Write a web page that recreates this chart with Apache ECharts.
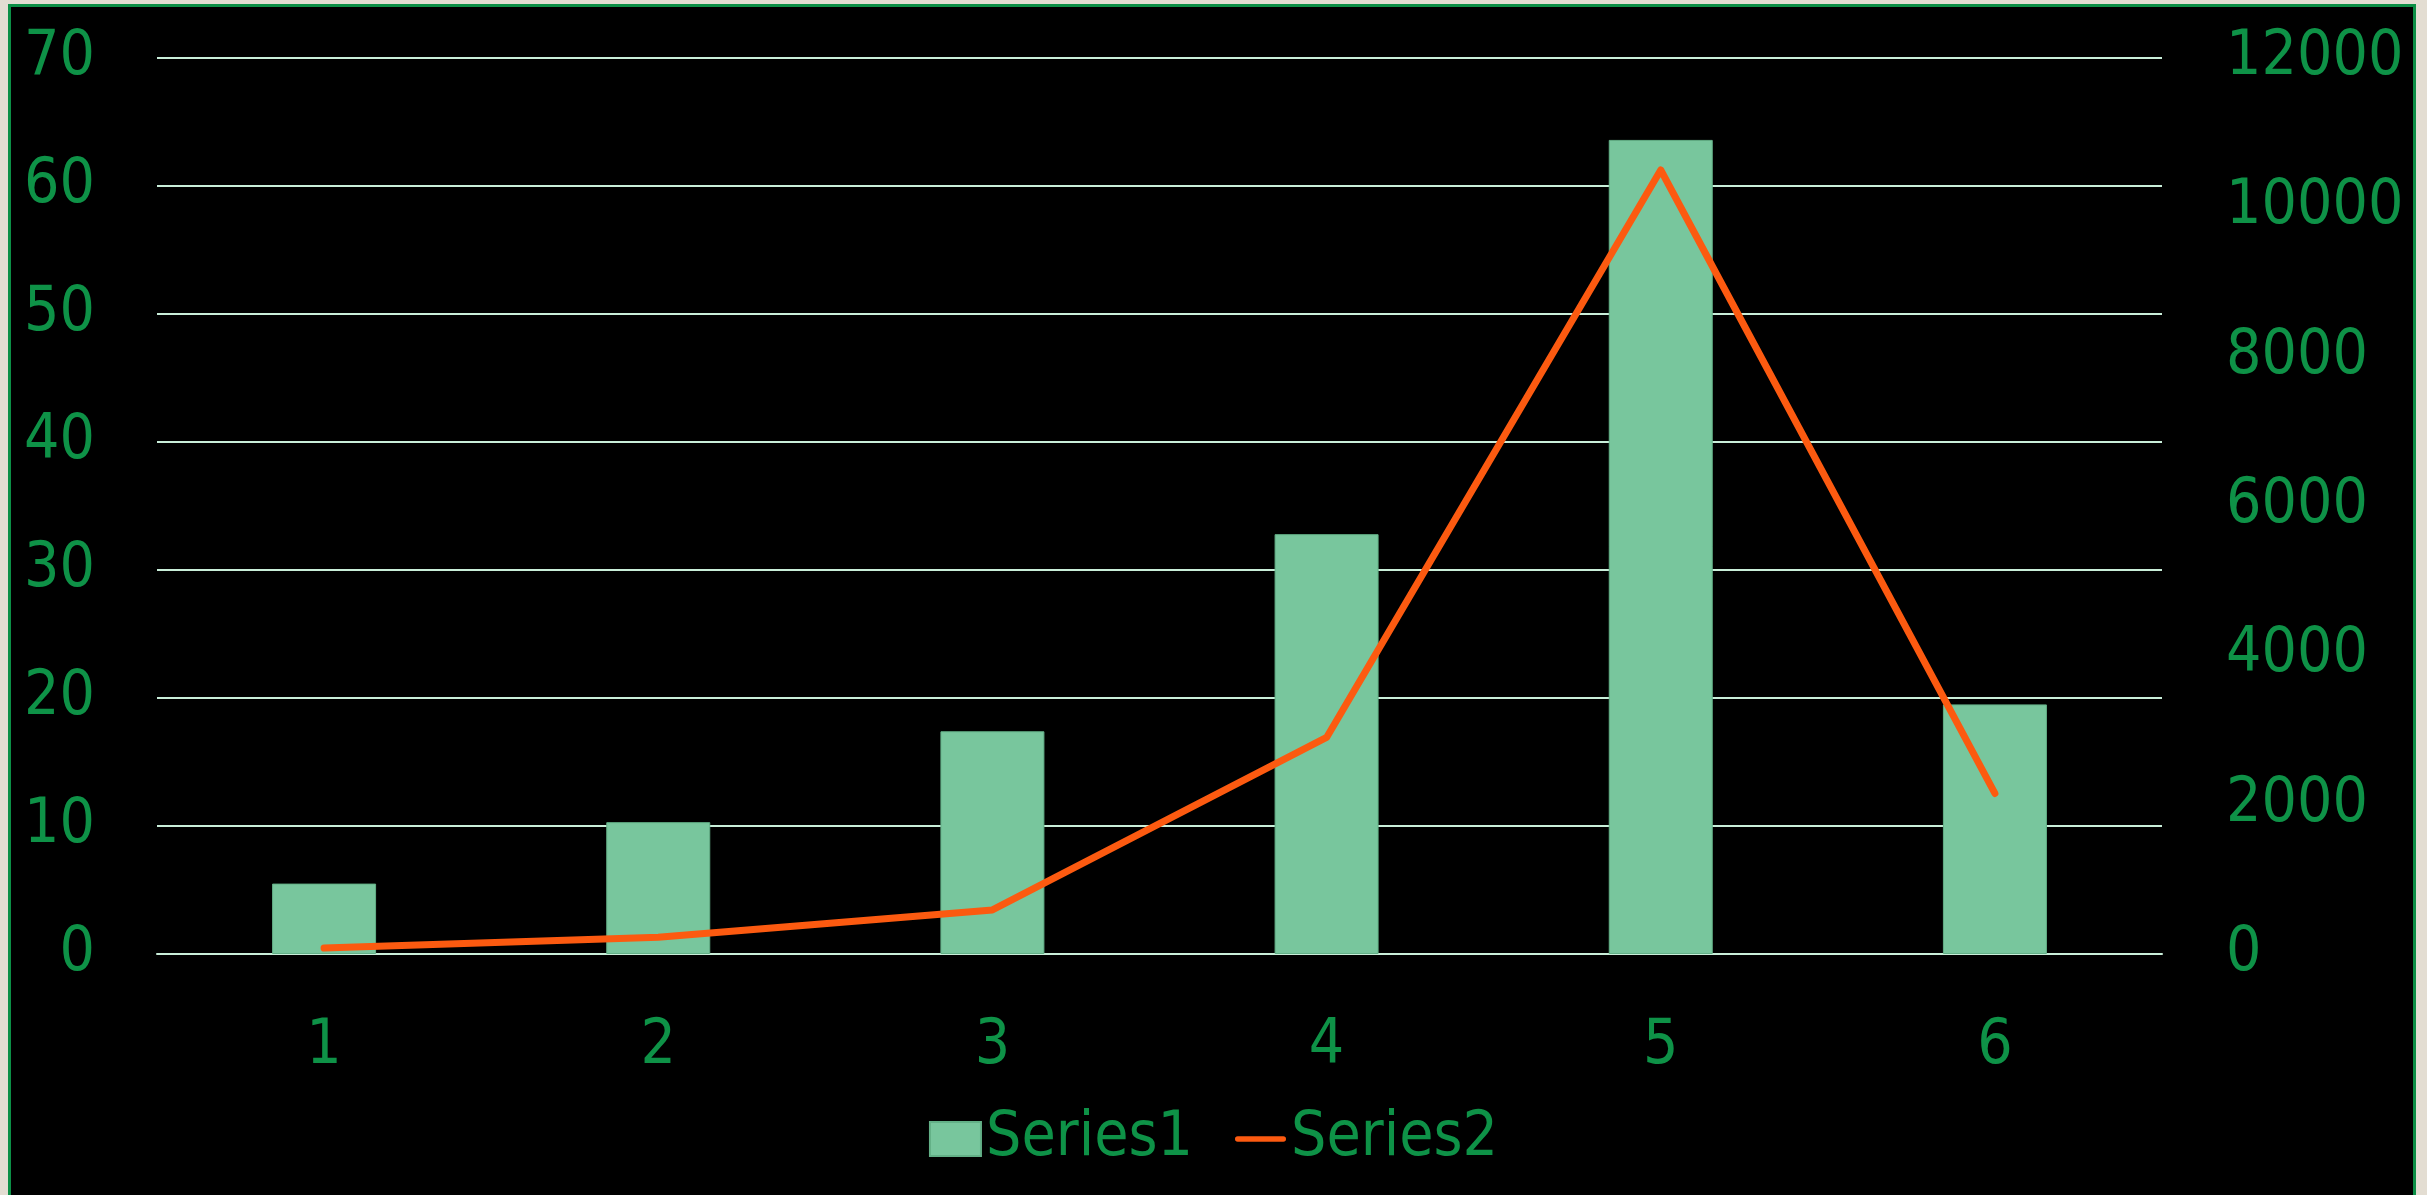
<!DOCTYPE html>
<html style="height: 100%">
<head>
	<meta charset="utf-8">
	<style>
		body { margin: 0; background: #e3ddd2; overflow: hidden; }
		#frame { position: absolute; left: 8px; top: 4px; width: 2408px; height: 1260px; box-sizing: border-box; background: #000; border: 3px solid #0c8f46; }
		#container { position: absolute; left: 0; top: 0; width: 2427px; height: 1195px; }
	</style>
</head>
<body>
<div id="frame"></div>
<div id="container"></div>
<script type="text/javascript" src="https://cdn.jsdelivr.net/npm/echarts@6/dist/echarts.min.js"></script>
<script type="text/javascript">
    var categories = ['1', '2', '3', '4', '5', '6'];
    var series1 = [5.5, 10.3, 17.4, 32.8, 63.6, 19.5];
    var series2 = [80, 225, 590, 2900, 10500, 2150];

    var fontFamily = '"DejaVu Sans Condensed", "DejaVu Sans", sans-serif';
    var fontSize = 62;
    var textGreen = '#0e9247';
    var gridColor = '#c9eed9';
    var lineColor = '#fc5a10';

    var dom = document.getElementById("container");
    var myChart = echarts.init(dom);

    var option = {
        backgroundColor: 'transparent',
        animation: false,
        textStyle: { fontFamily: fontFamily },
        grid: {
            left: 157,
            right: 265,
            top: 58,
            bottom: 241
        },
        legend: {
            left: 'center',
            top: 1103,
            itemWidth: 51,
            itemHeight: 34,
            itemGap: 42,
            textStyle: { color: textGreen, fontSize: fontSize, padding: [12, 0, 0, 0], fontFamily: fontFamily },
            data: [
                { name: 'Series1', icon: 'rect' },
                { name: 'Series2', icon: 'path://M3,0 L53,0 A3,3 0 0 1 53,6 L3,6 A3,3 0 0 1 3,0 Z', itemStyle: { color: lineColor } }
            ]
        },
        xAxis: {
            type: 'category',
            data: categories,
            axisLine: { show: true, lineStyle: { color: gridColor, width: 2 } },
            axisTick: { show: false },
            axisLabel: { color: textGreen, fontSize: fontSize, margin: 62, fontFamily: fontFamily }
        },
        yAxis: [{
            type: 'value',
            min: 0,
            max: 70,
            interval: 10,
            axisLine: { show: false },
            axisTick: { show: false },
            splitLine: { show: true, lineStyle: { color: gridColor, width: 2 } },
            axisLabel: { color: textGreen, fontSize: fontSize, margin: 62, padding: [18, 0, 0, 0], fontFamily: fontFamily }
        }, {
            type: 'value',
            min: 0,
            max: 12000,
            interval: 2000,
            position: 'right',
            axisLine: { show: false },
            axisTick: { show: false },
            splitLine: { show: false },
            axisLabel: {
                color: textGreen, fontSize: fontSize, margin: 64, align: 'left',
                padding: [18, 0, 0, 0], fontFamily: fontFamily,
                formatter: function (v) { return String(v); }
            }
        }],
        series: [{
            name: 'Series1',
            type: 'bar',
            yAxisIndex: 0,
            barWidth: 104,
            itemStyle: { color: '#78c69d', borderColor: '#63b087', borderWidth: 1 },
            data: series1
        }, {
            name: 'Series2',
            type: 'line',
            yAxisIndex: 1,
            symbol: 'none',
            lineStyle: { color: lineColor, width: 7, cap: 'round', join: 'round' },
            itemStyle: { color: lineColor },
            data: series2
        }]
    };

    myChart.setOption(option, true);

    window.addEventListener('resize', function () {
        myChart.resize();
    });
</script>
</body>
</html>
